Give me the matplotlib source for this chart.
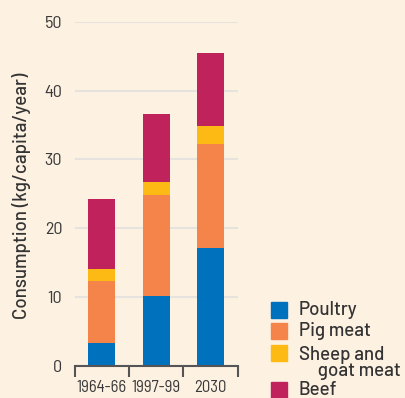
import matplotlib
matplotlib.use("Agg")
import matplotlib.pyplot as plt
from matplotlib.patches import Rectangle
import numpy as np

periods = ["1964-66", "1997-99", "2030"]
series = ["Poultry", "Pig meat", "Sheep and\n     goat meat", "Beef"]
poultry = [3.4, 10.2, 17.1]
pig_meat = [8.9, 14.6, 15.1]
sheep_goat = [1.8, 1.9, 2.6]
beef = [10.1, 9.9, 10.6]
values = [poultry, pig_meat, sheep_goat, beef]
colors = ["#0071BC", "#F5844B", "#FDB914", "#C0235B"]

bg = "#FDF1E2"
text_col = "#3A3A3A"
tick_font = ["Barlow Semi Condensed", "DejaVu Sans"]
main_font = ["Barlow", "DejaVu Sans"]
plt.rcParams["font.family"] = tick_font

fig = plt.figure(figsize=(4.06, 3.98), dpi=100, facecolor=bg)
ax = fig.add_axes([0.184, 0.0804, 0.401, 0.8651], facecolor=bg)

x = np.arange(len(periods))
bottom = np.zeros(len(periods))
for vals, col in zip(values, colors):
    ax.bar(x, vals, width=0.5, bottom=bottom, color=col, zorder=3)
    bottom += np.array(vals)

ax.set_xlim(-0.5, 2.5)
ax.set_ylim(0, 50)
ax.set_yticks([0, 10, 20, 30, 40, 50])
ax.grid(axis="y", color="#E6E3DE", linewidth=1.5, zorder=0)
ax.tick_params(axis="y", length=0, pad=9, labelsize=13, labelcolor=text_col)

ax.set_xticks(x)
ax.set_xticklabels(periods)
ax.set_xticks([-0.5, 0.5, 1.5, 2.5], minor=True)
ax.tick_params(axis="x", which="major", length=0, pad=10, labelsize=12,
               labelcolor=text_col)
ax.tick_params(axis="x", which="minor", length=8, width=1.5, color="#555555",
               direction="out")

for s in ["left", "right", "top"]:
    ax.spines[s].set_visible(False)
ax.spines["bottom"].set_color("#555555")
ax.spines["bottom"].set_linewidth(1.5)
ax.spines["bottom"].set_zorder(4)

fig.text(0.054, 0.507, "Consumption (kg/capita/year)", rotation=90,
         ha="center", va="center", fontsize=13.5, color="#333333",
         family=main_font, fontweight="medium")

# legend drawn as swatches plus labels
W, H = 406, 398
rows_y = [310, 331, 353, 390]
for name, col, yc in zip(series, colors, rows_y):
    fig.patches.append(Rectangle((271 / W, 1 - (yc + 8) / H), 16 / W, 16 / H,
                                 transform=fig.transFigure, color=col,
                                 figure=fig))
    line_off = 0 if "\n" not in name else 10
    fig.text(299 / W, 1 - (yc + line_off) / H, name, ha="left", va="center",
             fontsize=13.5, color="#333333", family=main_font,
             fontweight="medium", linespacing=0.92)

fig.savefig("out.png", dpi=100, facecolor=bg)
